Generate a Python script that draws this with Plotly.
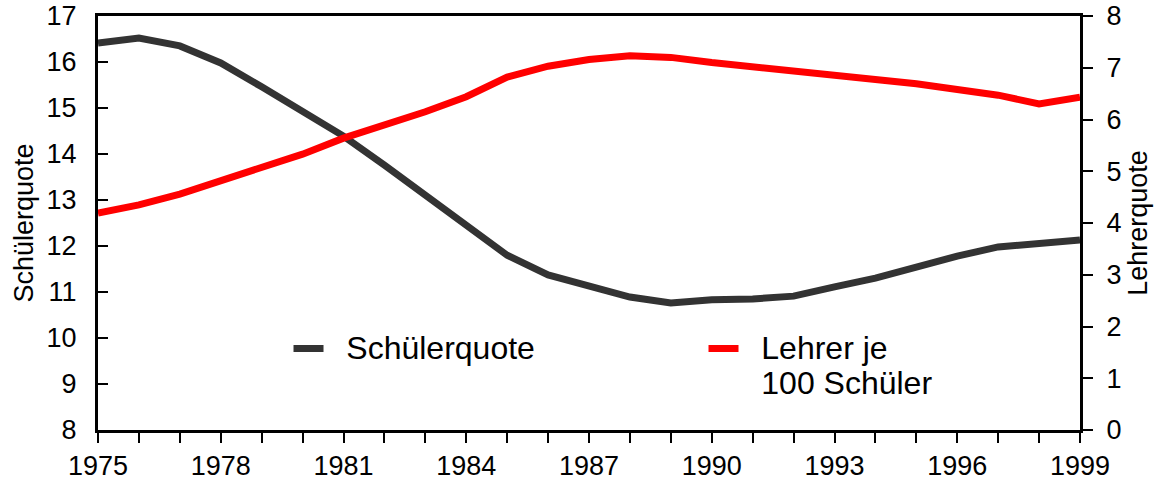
import plotly.graph_objects as go

years = list(range(1975, 2000))
schuelerquote = [16.41, 16.52, 16.35, 15.98, 15.46, 14.91, 14.39, 13.76, 13.11, 12.43,
                 11.80, 11.37, 11.13, 10.89, 10.76, 10.83, 10.85, 10.91, 11.11, 11.30,
                 11.54, 11.78, 11.98, 12.07, 12.13]
lehrer_je_100 = [4.19, 4.35, 4.56, 4.81, 5.06, 5.33, 5.64, 5.89, 6.15, 6.44,
                 6.82, 7.03, 7.16, 7.23, 7.20, 7.10, 7.02, 6.94, 6.84, 6.75,
                 6.69, 6.58, 6.47, 6.30, 6.43]
x_ticks = [1975, 1978, 1981, 1984, 1987, 1990, 1993, 1996, 1999]
series_names = ["Schülerquote", "Lehrer je<br>100 Schüler"]

FONT = "Liberation Sans, Arial, sans-serif"
FS = 27
LFS = 32
PAD = "\u00a0\u00a0"


def legend_label(text):
    lines = text.split("<br>")
    return "<br>".join(f'<span style="font-size:{LFS}px">{PAD}{ln}</span>' for ln in lines)


fig = go.Figure()
fig.add_trace(go.Scatter(x=years, y=schuelerquote, mode="lines",
                         name=legend_label(series_names[0]),
                         line=dict(color="#333333", width=7), yaxis="y"))
fig.add_trace(go.Scatter(x=years, y=lehrer_je_100, mode="lines",
                         name=legend_label(series_names[1]),
                         line=dict(color="#ff0000", width=7), yaxis="y2"))

fig.update_layout(
    width=1162, height=486,
    margin=dict(l=98, r=82, t=16, b=56, autoexpand=False),
    paper_bgcolor="white", plot_bgcolor="white",
    font=dict(family=FONT, size=FS, color="black"),
    showlegend=True,
    legend=dict(orientation="h", x=0.194, y=0.255, xanchor="left", yanchor="top",
                entrywidth=370, entrywidthmode="pixels", valign="top",
                bgcolor="rgba(0,0,0,0)", font=dict(size=FS), traceorder="normal"),
    xaxis=dict(range=[1975, 1999], tickvals=x_ticks, ticks="outside", ticklen=10,
               tickwidth=2, tickcolor="black", showline=True, linecolor="black",
               linewidth=3, mirror=True, showgrid=False, zeroline=False,
               automargin=False, ticklabeloverflow="allow",
               minor=dict(dtick=1, ticks="outside", ticklen=10, tickwidth=2,
                          tickcolor="black", showgrid=False),
               tickfont=dict(size=FS)),
    yaxis=dict(range=[8, 17], dtick=1, ticks="inside", ticklen=10, tickwidth=2,
               tickcolor="black", showline=True, linecolor="black", linewidth=3,
               showgrid=False, zeroline=False, automargin=False,
               ticklabelstandoff=13, ticklabeloverflow="allow",
               title=dict(text="Schülerquote", font=dict(size=FS), standoff=6),
               tickfont=dict(size=FS)),
    yaxis2=dict(range=[0, 8], dtick=1, overlaying="y", side="right", anchor="x",
                ticks="outside", ticklen=10, tickwidth=2, tickcolor="black",
                showline=True, linecolor="black", linewidth=3, showgrid=False,
                zeroline=False, automargin=False, ticklabelstandoff=8,
                ticklabeloverflow="allow",
                title=dict(text="Lehrerquote", font=dict(size=FS), standoff=8),
                tickfont=dict(size=FS)),
    yaxis3=dict(range=[0, 8], dtick=1, overlaying="y", side="right", anchor="x",
                ticks="inside", ticklen=10, tickwidth=2, tickcolor="black",
                showticklabels=False, showline=False, showgrid=False, zeroline=False,
                automargin=False),
)

fig.write_html("out.html", config={"displayModeBar": False},
               post_script="document.body.style.margin='0px';")
